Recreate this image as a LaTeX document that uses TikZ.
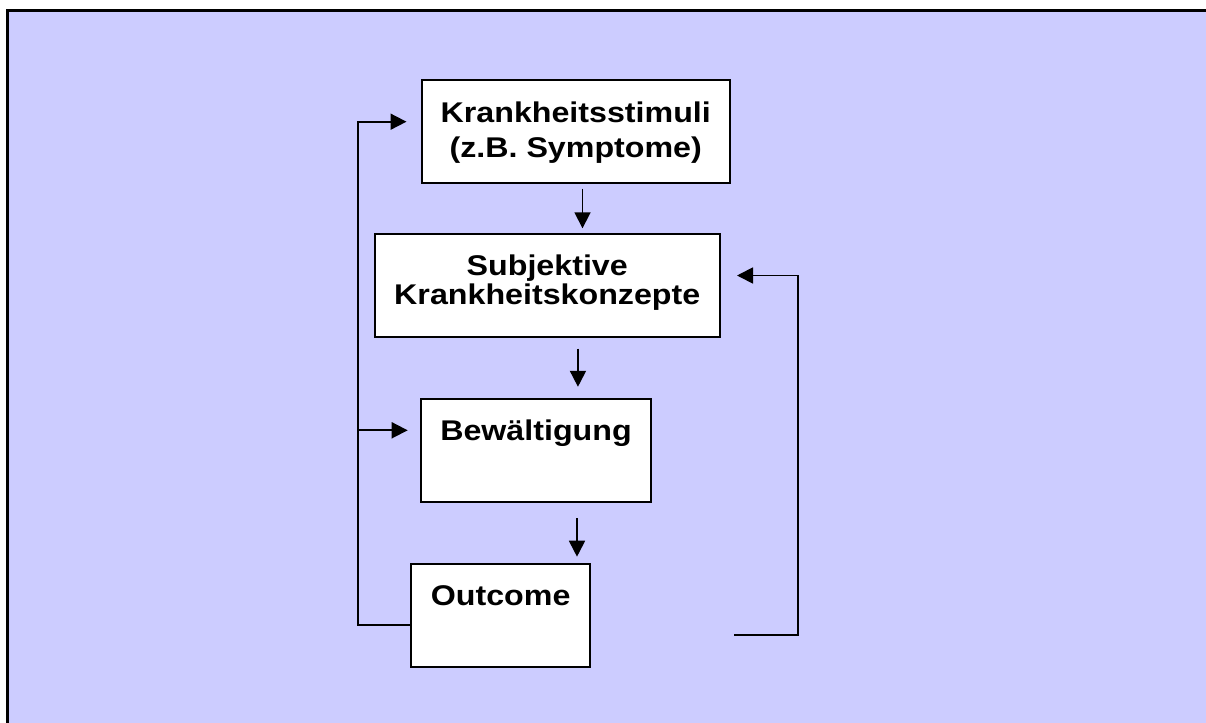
\documentclass[tikz,border=0pt]{standalone}
\usepackage{fontspec}
\newfontfamily\diagfont[FakeStretch=1.13]{Liberation Sans}
\usetikzlibrary{arrows.meta}
\definecolor{lavender}{HTML}{CCCCFF}

% box content: fixed width/height, text hung from the top
\newcommand\boxtext[4]{%
  \begin{minipage}[t][#2][t]{#1}\centering
    \diagfont\bfseries\fontsize{28.5bp}{#3}\selectfont
    \rule{0pt}{41.5bp}#4%
  \end{minipage}}

\begin{document}
\begin{tikzpicture}[x=1bp,y=-1bp,
  stepbox/.style={draw=black, line width=2bp, fill=white, inner sep=0pt, anchor=north west},
  arr/.style={line width=1.8bp, -{Triangle[length=16bp,width=16bp]}}]

\useasboundingbox (0,0) rectangle (1206,723);

% page and background panel, framed on the top and left
\fill[white] (-20,-20) rectangle (1230,745);
\fill[lavender] (7.5,10.5) rectangle (1230,745);
\draw[line width=2.2bp] (7.5,745) -- (7.5,10.5) -- (1230,10.5);

% boxes
\node[stepbox] (B1) at (420.5,79.5)
  {\boxtext{308.5bp}{102bp}{35.7bp}{Krankheitsstimuli\\(z.B. Symptome)}};
\node[stepbox] (B2) at (374,233.3)
  {\boxtext{344.5bp}{102.2bp}{28.3bp}{Subjektive\\Krankheitskonzepte}};
\node[stepbox] (B3) at (420,398.3)
  {\boxtext{230bp}{102.7bp}{28.3bp}{Bewältigung}};
\node[stepbox] (B4) at (410,562.7)
  {\boxtext{179.3bp}{103.3bp}{28.3bp}{Outcome}};

% downward chain
\draw[arr, shorten <=5bp, shorten >=5bp]
  ([xshift=6.75bp]B1.south) -- ([xshift=6.75bp]B1.south |- B2.north);
\draw[arr, shorten <=11bp, shorten >=11.5bp]
  ([xshift=30.7bp]B2.south) -- ([xshift=30.7bp]B2.south |- B3.north);
\draw[arr, shorten <=15bp, shorten >=6bp]
  ([xshift=41bp]B3.south) -- ([xshift=41bp]B3.south |- B4.north);

% left feedback loop
\coordinate (lc) at (358,0);
\coordinate (out4) at ([yshift=-10bp]B4.west);
\coordinate (in1) at ([xshift=-14bp,yshift=9.8bp]B1.west);
\coordinate (in3) at ([xshift=-12.3bp,yshift=20.35bp]B3.west);
\draw[arr] (out4) -| (lc |- in1) -- (in1);
\draw[arr] (lc |- in3) -- (in3);

% right feedback loop
\coordinate (rstart) at (734,635);
\coordinate (rc) at (797.7,0);
\coordinate (in2) at ([xshift=16.5bp,yshift=9.9bp]B2.east);
\draw[arr] (rstart) -| (rc |- in2) -- (in2);

\end{tikzpicture}
\end{document}
